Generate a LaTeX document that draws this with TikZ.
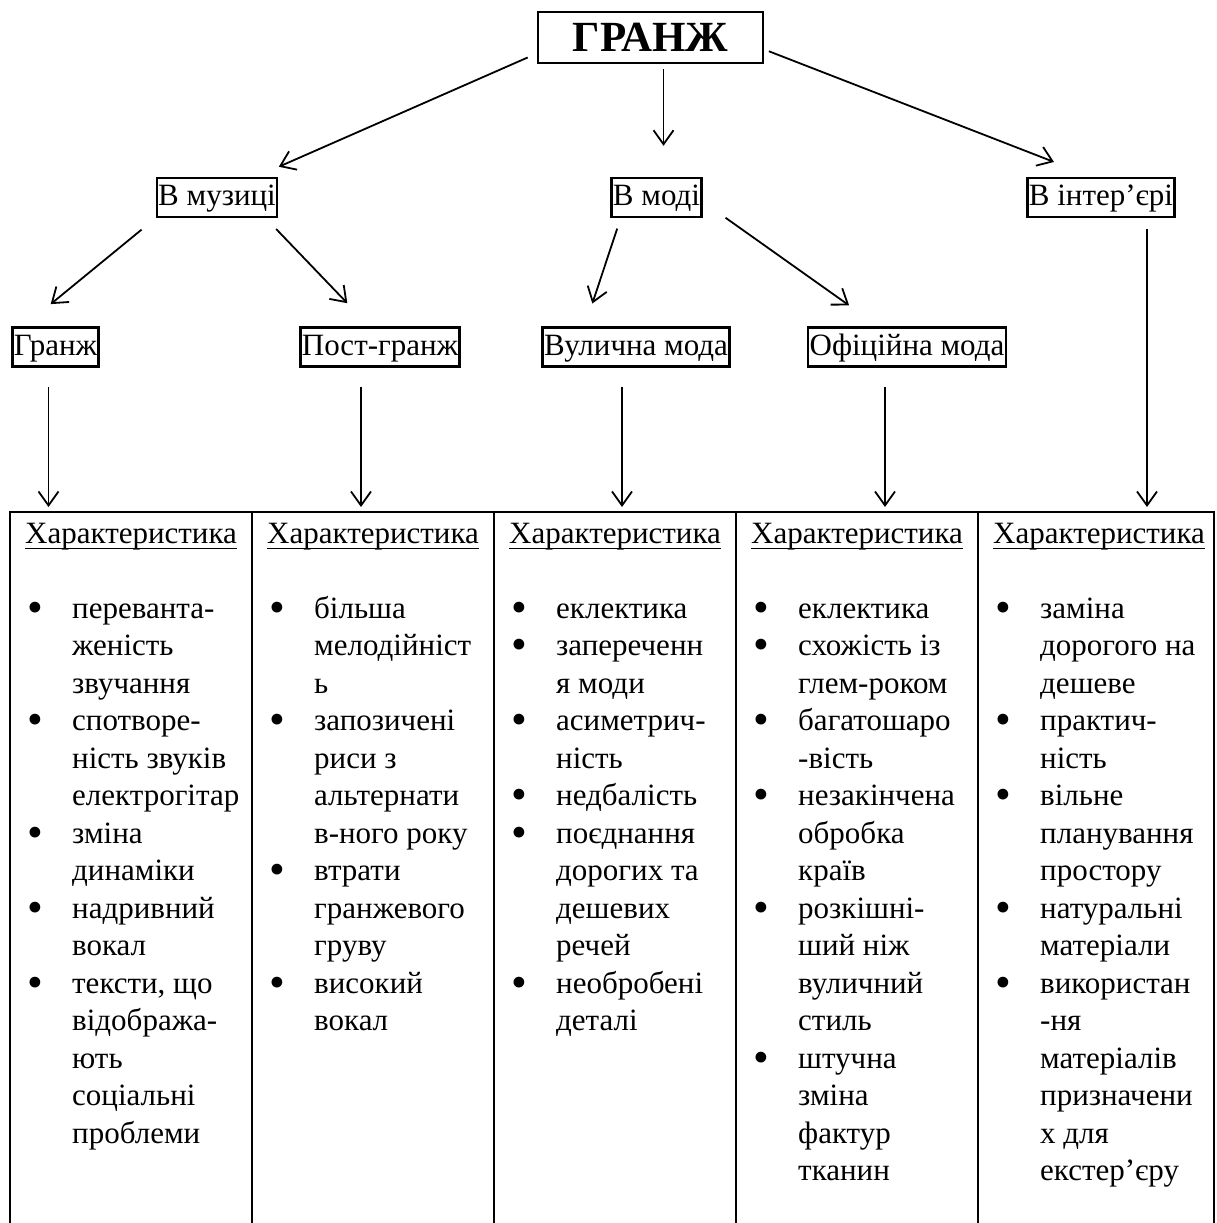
\documentclass[tikz,border=0pt]{standalone}
\usepackage{fontspec}
\setmainfont{Liberation Serif}
\usetikzlibrary{positioning,arrows.meta}

\newsavebox{\headbox}
\newcommand{\itm}{\makebox[47pt][l]{\hspace{2pt}\raisebox{-4pt}[0pt][0pt]{\fontsize{45}{45}\selectfont\textbullet}}}
\newcommand{\cnt}{\hspace*{47pt}}
\newcommand{\headline}{\sbox{\headbox}{Характеристика}\rule{0pt}{25pt}\rlap{\rule[-6pt]{\wd\headbox}{1.6pt}}\usebox{\headbox}\\[37.5pt]}

\begin{document}
\begin{tikzpicture}[x=1pt, y=-1pt,
  every node/.style={font=\fontsize{31}{37.5}\selectfont},
  box/.style={draw, line width=2.4pt, inner xsep=1.5pt, inner ysep=4.5pt, text height=23pt, text depth=7pt},
  arr/.style={line width=1.8pt, -{Straight Barb[length=14pt,width=20pt]}},
  cell/.style={draw, line width=2.4pt, anchor=north west, outer sep=0pt, inner sep=0pt, minimum width=242pt, minimum height=760pt},
  list/.style={anchor=north west, align=left, inner sep=0pt}]

\clip (0,0) rectangle (1216,1223);

\node[box, font=\fontsize{43}{50}\selectfont\bfseries, minimum width=225pt, text height=28.5pt, text depth=0pt, inner ysep=11.25pt] (grunge) at (650.5,37.5) {ГРАНЖ};

\node[box] (music) at (217,197.5) {В музиці};
\node[box] (fashion) at (656.5,197.5) {В моді};
\node[box] (interior) at (1101,197.5) {В інтер’єрі};

\node[box] (granzh) at (55.5,347) {Гранж};
\node[box] (postgrunge) at (380,347) {Пост-гранж};
\node[box] (street) at (636,347) {Вулична мода};
\node[box] (official) at (907,347) {Офіційна мода};

% table
\node[cell] (col1) at (10,512) {};
\node[cell, right=0pt of col1] (col2) {};
\node[cell, right=0pt of col2] (col3) {};
\node[cell, right=0pt of col3] (col4) {};
\node[cell, right=0pt of col4, minimum width=236pt] (col5) {};

\draw[arr, shorten <=10pt, shorten >=25pt] (grunge.188) -- (music.28);
\draw[arr, shorten <=5pt, shorten >=31pt] ([xshift=7pt]fashion.north |- grunge.south) -- ([xshift=7pt]fashion.north);
\draw[arr, shorten <=5pt, shorten >=41pt] (grunge.-6) -- (interior.113);

\draw[arr, shorten <=18pt, shorten >=35pt] (music.south west) -- (granzh.147);
\draw[arr, shorten <=15pt, shorten >=32pt] (music.-23) -- (postgrunge.117);
\draw[arr, shorten <=11pt, shorten >=24pt] (fashion.210) -- (street.158);
\draw[arr, shorten <=28pt, shorten >=36pt] (fashion.-5) -- (official.144);

\draw[arr, shorten <=19pt, shorten >=5pt] ([xshift=-7pt]granzh.south) -- ([xshift=-7pt]granzh.south |- col1.north);
\draw[arr, shorten <=19pt, shorten >=5pt] ([xshift=-19pt]postgrunge.south) -- ([xshift=-19pt]postgrunge.south |- col2.north);
\draw[arr, shorten <=19pt, shorten >=5pt] ([xshift=-14pt]street.south) -- ([xshift=-14pt]street.south |- col3.north);
\draw[arr, shorten <=19pt, shorten >=5pt] ([xshift=-22pt]official.south) -- ([xshift=-22pt]official.south |- col4.north);
\draw[arr, shorten <=11pt, shorten >=5pt] ([xshift=46pt]interior.south) -- ([xshift=46pt]interior.south |- col5.north);

\node[list] (text1) at ([xshift=15pt,yshift=-6pt]col1.north west) {\headline
  \itm переванта-\\ \cnt женість\\ \cnt звучання\\
  \itm спотворе-\\ \cnt ність звуків\\ \cnt електрогітар\\
  \itm зміна\\ \cnt динаміки\\
  \itm надривний\\ \cnt вокал\\
  \itm тексти, що\\ \cnt відобража-\\ \cnt ють\\ \cnt соціальні\\ \cnt проблеми};

\node[list] (text2) at ([xshift=15pt,yshift=-6pt]col2.north west) {\headline
  \itm більша\\ \cnt мелодійніст\\ \cnt ь\\
  \itm запозичені\\ \cnt риси з\\ \cnt альтернати\\ \cnt в-ного року\\
  \itm втрати\\ \cnt гранжевого\\ \cnt груву\\
  \itm високий\\ \cnt вокал};

\node[list] (text3) at ([xshift=15pt,yshift=-6pt]col3.north west) {\headline
  \itm еклектика\\
  \itm запереченн\\ \cnt я моди\\
  \itm асиметрич-\\ \cnt ність\\
  \itm недбалість\\
  \itm поєднання\\ \cnt дорогих та\\ \cnt дешевих\\ \cnt речей\\
  \itm необробені\\ \cnt деталі};

\node[list] (text4) at ([xshift=15pt,yshift=-6pt]col4.north west) {\headline
  \itm еклектика\\
  \itm схожість із\\ \cnt глем-роком\\
  \itm багатошаро\\ \cnt -вість\\
  \itm незакінчена\\ \cnt обробка\\ \cnt країв\\
  \itm розкішні-\\ \cnt ший ніж\\ \cnt вуличний\\ \cnt стиль\\
  \itm штучна\\ \cnt зміна\\ \cnt фактур\\ \cnt тканин};

\node[list] (text5) at ([xshift=15pt,yshift=-6pt]col5.north west) {\headline
  \itm заміна\\ \cnt дорогого на\\ \cnt дешеве\\
  \itm практич-\\ \cnt ність\\
  \itm вільне\\ \cnt планування\\ \cnt простору\\
  \itm натуральні\\ \cnt матеріали\\
  \itm використан\\ \cnt -ня\\ \cnt матеріалів\\ \cnt призначени\\ \cnt х для\\ \cnt екстер’єру};

\end{tikzpicture}
\end{document}
